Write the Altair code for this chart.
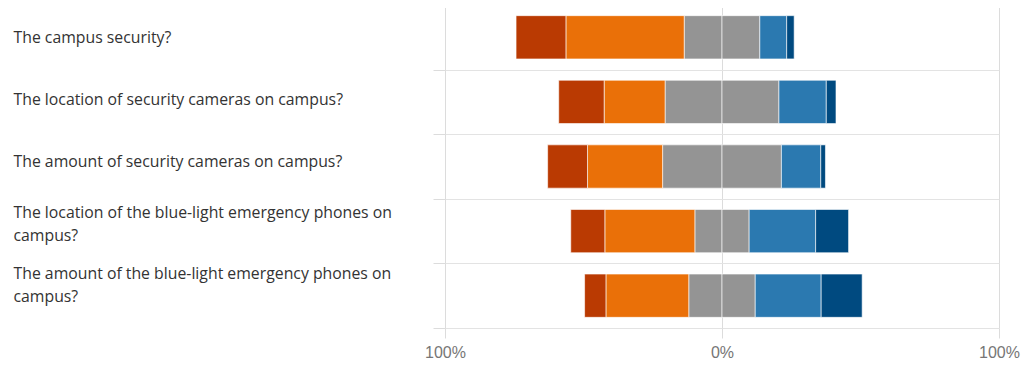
import altair as alt
import pandas as pd

categories = [
    "The campus security?",
    "The location of security cameras on campus?",
    "The amount of security cameras on campus?",
    "The location of the blue-light emergency phones on|campus?",
    "The amount of the blue-light emergency phones on|campus?",
]
levels = ["Very dissatisfied", "Dissatisfied", "Neutral", "Satisfied", "Very satisfied"]
very_dissatisfied = [18.0, 16.4, 14.4, 12.3, 7.7]
dissatisfied = [42.7, 22.0, 27.1, 32.5, 29.9]
neutral = [27.3, 41.1, 42.9, 19.6, 24.0]
satisfied = [9.7, 17.1, 14.2, 24.0, 23.8]
very_satisfied = [2.7, 3.5, 1.7, 11.9, 14.8]
colors = ["#BA3A02", "#EA7008", "#949494", "#2B79B0", "#004A80"]
x_ticks = [-100, 0, 100]

rows = []
for i, q in enumerate(categories):
    half = neutral[i] / 2
    e = -half
    rows.append(dict(q=q, level="Neutral", start=e, end=0))
    s = e - dissatisfied[i]
    rows.append(dict(q=q, level="Dissatisfied", start=s, end=e))
    rows.append(dict(q=q, level="Very dissatisfied", start=s - very_dissatisfied[i], end=s))
    rows.append(dict(q=q, level="Neutral", start=0, end=half))
    p = half + satisfied[i]
    rows.append(dict(q=q, level="Satisfied", start=half, end=p))
    rows.append(dict(q=q, level="Very satisfied", start=p, end=p + very_satisfied[i]))
df = pd.DataFrame(rows)
labels_df = pd.DataFrame({"q": categories})

x_enc = alt.X(
    "start:Q",
    scale=alt.Scale(domain=[-100, 100], nice=False),
    axis=alt.Axis(
        values=x_ticks,
        title=None,
        grid=True,
        gridColor="#dcdcdc",
        domain=False,
        ticks=True,
        tickColor="#dcdcdc",
        tickSize=10,
        labelExpr="abs(datum.value) + '%'",
        labelFont="Liberation Sans",
        labelFontSize=16,
        labelColor="#767676",
        labelPadding=6,
        labelFlush=False,
    ),
)

bars = (
    alt.Chart(df)
    .mark_bar(stroke="#ffffff", strokeWidth=1, strokeOpacity=0.6, height={"band": 0.67})
    .encode(
        x=x_enc,
        x2="end:Q",
        y=alt.Y(
            "q:N",
            sort=categories,
            scale=alt.Scale(paddingInner=0, paddingOuter=0),
            axis=alt.Axis(
                title=None,
                grid=True,
                gridColor="#e3e3e3",
                tickBand="extent",
                domain=False,
                ticks=True,
                tickColor="#dcdcdc",
                tickSize=12,
                labels=False,
                orient="left",
            ),
        ),
        color=alt.Color(
            "level:N",
            scale=alt.Scale(domain=levels, range=colors),
            legend=None,
        ),
    )
)


def label_axis(expr):
    return alt.Axis(
        title=None,
        grid=False,
        domain=False,
        ticks=False,
        orient="left",
        labelAlign="left",
        labelBaseline="middle",
        labelPadding=432,
        labelLimit=600,
        labelFont="Open Sans",
        labelFontSize=15.8,
        labelColor="#333333",
        labelLineHeight=23,
        labelExpr=expr,
    )


single_labels = (
    alt.Chart(labels_df)
    .mark_text(text="", opacity=0)
    .encode(
        y=alt.Y(
            "q:N",
            sort=categories,
            scale=alt.Scale(type="band", paddingInner=0, paddingOuter=0, range=[1.6, 312.4]),
            axis=label_axis("indexof(datum.label, '|') >= 0 ? '' : datum.label"),
        ),
    )
)

multi_labels = (
    alt.Chart(labels_df)
    .mark_text(text="", opacity=0)
    .encode(
        y=alt.Y(
            "q:N",
            sort=categories,
            scale=alt.Scale(type="band", paddingInner=0, paddingOuter=0, range=[-7.9, 300.1]),
            axis=label_axis("indexof(datum.label, '|') >= 0 ? split(datum.label, '|') : ''"),
        ),
    )
)

chart = (
    alt.layer(bars, single_labels, multi_labels)
    .resolve_scale(y="independent")
    .properties(
        width=554,
        height=323,
        padding={"left": 5, "top": -4, "right": 5, "bottom": 5},
    )
    .configure_view(stroke=None)
)

chart.save("out.html", embed_options={"renderer": "svg", "actions": False})
